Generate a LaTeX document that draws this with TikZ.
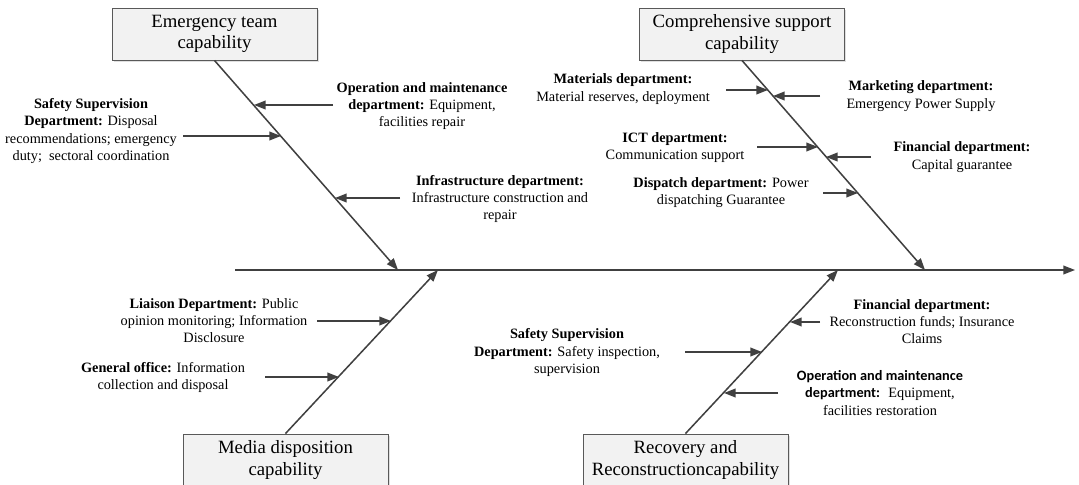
\documentclass[tikz,border=0pt]{standalone}
\usepackage{fontspec}
\setmainfont{Liberation Serif}
\newfontfamily\calfont{Carlito}
\usetikzlibrary{arrows.meta, shadows}
\tikzset{->, >={Triangle[length=10pt,width=7.5pt]},
every edge/.style={draw=black!75, line width=1.3pt},
capbox/.style={draw=black!65, fill=gray!10, line width=0.8pt, minimum width=6.15cm, minimum height=1.56cm,
  align=center, font=\fontsize{16}{18.4}\selectfont,
  drop shadow={shadow xshift=1.5pt, shadow yshift=-1.5pt, opacity=0.25}},
dept/.style={align=center, inner sep=0pt, font=\fontsize{12.2}{14.8}\selectfont},
}
\newcommand{\dep}[1]{\textbf{#1}}

\begin{document}
\begin{tikzpicture}[x=0.03cm, y=-0.03cm]
\useasboundingbox (0,0) rectangle (1079,485);
% capability boxes
    \node[capbox] (emg)  at (214.5,34) {Emergency team\\capability};
    \node[capbox] (comp) at (742,34)   {Comprehensive support\\capability};
    \node[capbox] (media) at (285.5,460) {Media disposition\\capability};
    \node[capbox] (rec)  at (685.5,460) {Recovery and\\Reconstructioncapability};
% departments
    \node[dept] (ss1)  at (91,131)    {\dep{Safety Supervision}\\ \dep{Department:} Disposal\\ recommendations; emergency\\ duty;~~sectoral coordination};
    \node[dept] (om1)  at (422,106)   {\dep{Operation and maintenance}\\ \dep{department:} Equipment,\\ facilities repair};
    \node[dept] (inf)  at (500,199)   {\dep{Infrastructure department:}\\ Infrastructure construction and\\ repair};
    \node[dept] (mat)  at (623,89)    {\dep{Materials department:}\\ Material reserves, deployment};
    \node[dept] (mkt)  at (921,96)    {\dep{Marketing department:}\\ Emergency Power Supply};
    \node[dept] (ict)  at (675,147.5) {\dep{ICT department:}\\ Communication support};
    \node[dept] (fin1) at (962,157)   {\dep{Financial department:}\\ Capital guarantee};
    \node[dept] (dis)  at (721,192.5) {\dep{Dispatch department:} Power\\ dispatching Guarantee};
    \node[dept] (lia)  at (214,320.5) {\dep{Liaison Department:} Public\\ opinion monitoring; Information\\ Disclosure};
    \node[dept] (gen)  at (163,377.5) {\dep{General office:} Information\\ collection and disposal};
    \node[dept] (fin2) at (922,321.5) {\dep{Financial department:}\\ Reconstruction funds; Insurance\\ Claims};
    \node[dept] (ss2)  at (567,352.5) {\dep{Safety Supervision}\\ \dep{Department:} Safety inspection,\\ supervision};
    \node[dept] (om2)  at (880,393)   {{\calfont\bfseries Operation and maintenance}\\ {\calfont\bfseries department:}~ Equipment,\\ facilities restoration};
% spine and bone ends
    \coordinate (tail) at (235,270);
    \coordinate (head) at (1075,270);
    \coordinate (emgend) at (398,270);
    \coordinate (compend) at (925,270);
    \coordinate (mediaend) at (438,270);
    \coordinate (recend) at (838,270);
% arrow tails and tips
    \coordinate (om1t) at (333,105);  \coordinate (om1b) at (254,105);
    \coordinate (ss1t) at (183,136);  \coordinate (ss1b) at (281,136);
    \coordinate (inft) at (400,198);  \coordinate (infb) at (335,198);
    \coordinate (matt) at (726,90);   \coordinate (matb) at (768,90);
    \coordinate (mktt) at (820,96);   \coordinate (mktb) at (773,96);
    \coordinate (ictt) at (757,147);  \coordinate (ictb) at (818,147);
    \coordinate (fin1t) at (871,157); \coordinate (fin1b) at (826,157);
    \coordinate (dist) at (823,193);  \coordinate (disb) at (858,193);
    \coordinate (liat) at (317,321);  \coordinate (liab) at (391,321);
    \coordinate (gent) at (265,377);  \coordinate (genb) at (339,377);
    \coordinate (fin2t) at (820,322); \coordinate (fin2b) at (790,322);
    \coordinate (ss2t) at (685,352);  \coordinate (ss2b) at (762,352);
    \coordinate (om2t) at (778,393);  \coordinate (om2b) at (724,393);
% main bones
    \path (tail) edge (head)
    (emg.south) edge (emgend)
    (comp.south) edge (compend)
    (media.north) edge (mediaend)
    (rec.north) edge (recend)
% departments into the bones
    (om1t) edge (om1b)  (ss1t) edge (ss1b)  (inft) edge (infb)
    (matt) edge (matb)  (mktt) edge (mktb)  (ictt) edge (ictb)
    (fin1t) edge (fin1b)  (dist) edge (disb)
    (liat) edge (liab)  (gent) edge (genb)
    (fin2t) edge (fin2b)  (ss2t) edge (ss2b)  (om2t) edge (om2b)
    ;
\end{tikzpicture}
\end{document}
